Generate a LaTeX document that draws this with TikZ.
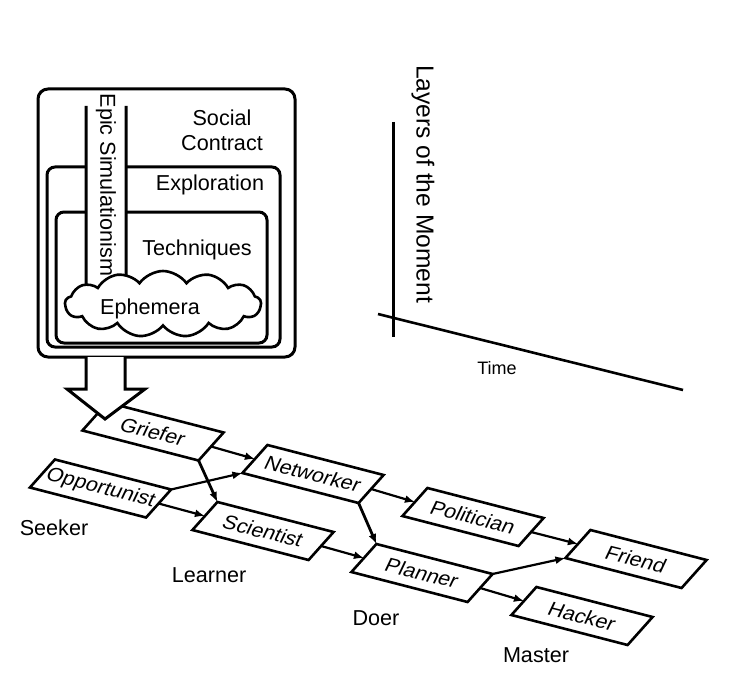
\documentclass[tikz,border=0pt]{standalone}
\usepackage{fontspec}
\setmainfont{Liberation Sans}
\usetikzlibrary{arrows.meta,shapes.symbols}

\begin{document}
\begin{tikzpicture}  % ------ Layers of the moment and player types -------
      [x=0.5pt,y=-0.5pt,
       layer/.style={draw,line width=1.5pt,inner sep=0pt,outer sep=0pt},
       plate/.style={draw,fill=white,line width=1.3pt,inner sep=0pt,outer sep=0pt,
                     minimum width=60pt,minimum height=18.75pt,
                     cm={0.968,-0.25,0.667,0.747,(0,0)}},
       platetext/.style={font=\fontsize{10}{12}\selectfont,rotate=-14,xslant=0.2,xscale=1.07},
       flow/.style={line width=1.1pt,-{Latex[length=5pt,width=4pt]}},
       drop/.style={line width=1.4pt,-{Latex[length=5pt,width=4pt]}},
       big/.style={font=\fontsize{10.8}{12.5}\selectfont}]
\useasboundingbox (0,0) rectangle (732,679);

    % nested layers
    \node[layer,rounded corners=5pt,minimum width=128.5pt,minimum height=134pt] (social) at (166.5,223) {};
    \node[layer,rounded corners=4pt,minimum width=116.5pt,minimum height=90pt] (exploration) at (163.5,257) {};
    \node[layer,rounded corners=4pt,minimum width=105.5pt,minimum height=65.5pt] (techniques) at (161.5,277.5) {};
    \node[big,align=center] at (222,130) {Social\\Contract};
    \node[big] at (210,185) {Exploration};
    \node[big] at (197,250) {Techniques};

    % epic simulationism column
    \filldraw[fill=white,line width=1.5pt] (86,106) -- (86,292) -- (80,292) -- (106,316) -- (132,292) -- (126,292) -- (126,106);
    \node[big,rotate=-90] at (106,185) {Epic Simulationism};
    \node[cloud,cloud puffs=13,cloud puff arc=110,aspect=3.4,draw,fill=white,line width=1.3pt,
          inner sep=0pt,minimum width=98pt,minimum height=33pt] (ephemera) at (163,304) {};
    \node[big] at (150,309) {Ephemera};

    % axes
    \draw[line width=1.5pt] (393,122) -- (393,337);
    \node[font=\fontsize{12.3}{14}\selectfont,rotate=-90] at (423,184) {Layers of the Moment};
    \draw[line width=1.3pt] (378,314) -- (683,390);
    \node[font=\fontsize{9}{11}\selectfont] at (497,368) {Time};

    % player types
    \node[plate] (griefer) at (153,431.5) {};      \node[platetext] at (griefer) {Griefer};
    \node[plate] (opportunist) at (100.5,488.5) {}; \node[platetext] at (opportunist) {Opportunist};
    \node[plate] (networker) at (313,474) {};     \node[platetext] at (networker) {Networker};
    \node[plate] (scientist) at (263,531) {};     \node[platetext] at (scientist) {Scientist};
    \node[plate] (politician) at (473,517) {};    \node[platetext] at (politician) {Politician};
    \node[plate] (planner) at (422,573) {};       \node[platetext] at (planner) {Planner};
    \node[plate] (friend) at (636,559) {};        \node[platetext] at (friend) {Friend};
    \node[plate] (hacker) at (582,616) {};        \node[platetext] at (hacker) {Hacker};

    \draw[flow] (griefer.east) -- (networker.west);
    \draw[drop] (griefer.south east) -- (scientist.north west);
    \draw[flow] (opportunist.north east) -- (networker.south west);
    \draw[flow] (opportunist.east) -- (scientist.west);
    \draw[flow] (networker.east) -- (politician.west);
    \draw[drop] (networker.south east) -- (planner.north west);
    \draw[flow] (scientist.east) -- (planner.west);
    \draw[flow] (politician.east) -- (friend.west);
    \draw[flow] (planner.north east) -- (friend.south west);
    \draw[flow] (planner.east) -- (hacker.west);

    % big arrow down to the griefer
    \filldraw[fill=white,line width=1.5pt] (86,357) -- (86,389) -- (67,389) -- (105,419) -- (145,389) -- (125,389) -- (125,357);

    % stages
    \node[big] at (54,528) {Seeker};
    \node[big] at (209,575) {Learner};
    \node[big] at (376,618) {Doer};
    \node[big] at (536,655) {Master};
\end{tikzpicture}
\end{document}
